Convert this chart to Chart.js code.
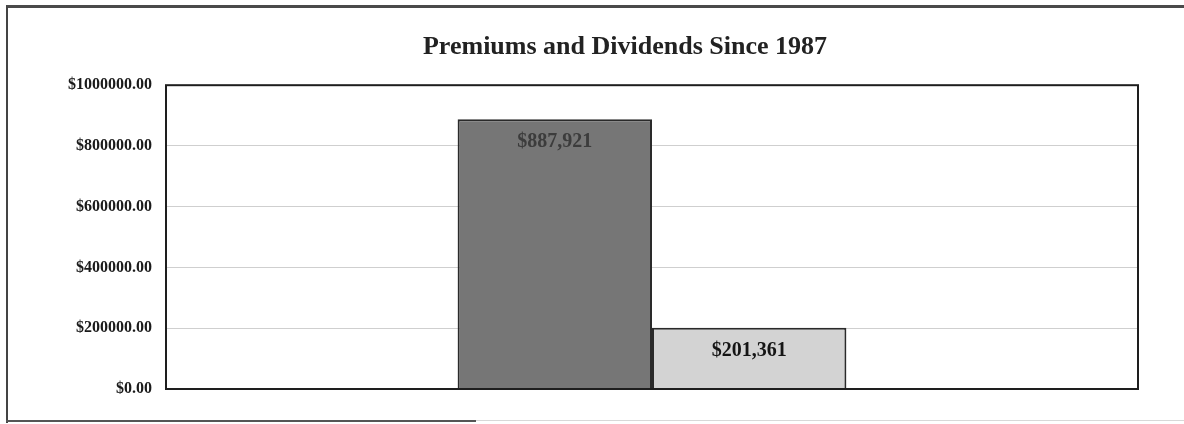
<!DOCTYPE html>
<html>
<head>
<meta charset="utf-8">
<script src="https://cdn.jsdelivr.net/npm/chart.js@4.4.0/dist/chart.umd.min.js"></script>
<style>
  html, body { margin: 0; padding: 0; background: #ffffff; }
  #wrap { position: relative; width: 1184px; height: 424px; overflow: hidden; }
  #frame { position: absolute; left: 6px; top: 5px; width: 1200px; height: 418px;
           border-top: 3px solid #4a4a4a; border-left: 2px solid #444;
           pointer-events: none; box-sizing: border-box; }
  #bottomA { position: absolute; left: 6px; top: 420px; width: 470px; height: 2px; background: #555; }
  #bottomB { position: absolute; left: 476px; top: 420px; width: 720px; height: 1px; background: #d8d8d8; }
  canvas { position: absolute; left: 0; top: 0; }
</style>
</head>
<body>
<div id="wrap">
  <canvas id="c" width="1184" height="424"></canvas>
  <div id="frame"></div>
  <div id="bottomA"></div>
  <div id="bottomB"></div>
</div>
<script>
const chartTitle = 'Premiums and Dividends Since 1987';
const categories = ['Since 1987'];
const seriesNames = ['Premiums', 'Dividends'];
const premiumsValues = [887921];
const dividendsValues = [201361];
const valueLabels = [['$887,921'], ['$201,361']];
const yTickValues = [0, 200000, 400000, 600000, 800000, 1000000];
const yTickLabels = ['$0.00', '$200000.00', '$400000.00', '$600000.00', '$800000.00', '$1000000.00'];

const serif = '"Liberation Serif", "Times New Roman", "DejaVu Serif", serif';

const plotFrame = {
  id: 'plotFrame',
  afterDatasetsDraw(chart) {
    const a = chart.chartArea, ctx = chart.ctx;
    ctx.save();
    ctx.strokeStyle = '#1e1e1e';
    ctx.lineWidth = 2;
    ctx.strokeRect(a.left, a.top, a.right - a.left, a.bottom - a.top);
    ctx.restore();
  }
};

const barLabels = {
  id: 'barLabels',
  afterDatasetsDraw(chart) {
    const ctx = chart.ctx;
    ctx.save();
    ctx.font = 'bold 20px ' + serif;
    ctx.textAlign = 'center';
    ctx.textBaseline = 'middle';
    chart.data.datasets.forEach((ds, di) => {
      const meta = chart.getDatasetMeta(di);
      meta.data.forEach((bar, i) => {
        ctx.fillStyle = di === 0 ? '#3c3c3c' : '#151515';
        ctx.fillText(valueLabels[di][i], bar.x, bar.y + 23);
      });
    });
    ctx.restore();
  }
};

new Chart(document.getElementById('c'), {
  type: 'bar',
  data: {
    labels: categories,
    datasets: [
      { label: seriesNames[0], data: premiumsValues, backgroundColor: '#767676',
        borderColor: '#2a2a2a', borderWidth: 2, categoryPercentage: 0.4, barPercentage: 1.0 },
      { label: seriesNames[1], data: dividendsValues, backgroundColor: '#d3d3d3',
        borderColor: '#2a2a2a', borderWidth: 2, categoryPercentage: 0.4, barPercentage: 1.0 }
    ]
  },
  options: {
    responsive: false,
    animation: false,
    layout: { padding: { left: 66, right: 0, top: 0, bottom: 35 } },
    plugins: {
      legend: { display: false },
      tooltip: { enabled: false },
      title: {
        display: true, text: chartTitle, color: '#222',
        font: { family: serif, size: 26, weight: 'bold' },
        padding: { top: 32, bottom: 22 }
      }
    },
    scales: {
      x: { display: false, grid: { display: false } },
      y: {
        position: 'left',
        min: 0, max: 1000000,
        afterBuildTicks(scale) { scale.ticks = yTickValues.map(v => ({ value: v })); },
        afterFit(scale) { scale.width = 100; },
        grid: { color: '#cfcfcf', lineWidth: 1, drawTicks: false },
        border: { display: false },
        ticks: {
          padding: 14, color: '#1a1a1a',
          font: { family: serif, size: 16, weight: 'bold' },
          callback(value) { const i = yTickValues.indexOf(value); return i >= 0 ? yTickLabels[i] : ''; }
        }
      },
      yRight: {
        type: 'linear', position: 'right', min: 0, max: 1000000,
        afterFit(scale) { scale.width = 46; },
        grid: { display: false }, border: { display: false },
        ticks: { display: false }
      }
    }
  },
  plugins: [plotFrame, barLabels]
});
</script>
</body>
</html>
